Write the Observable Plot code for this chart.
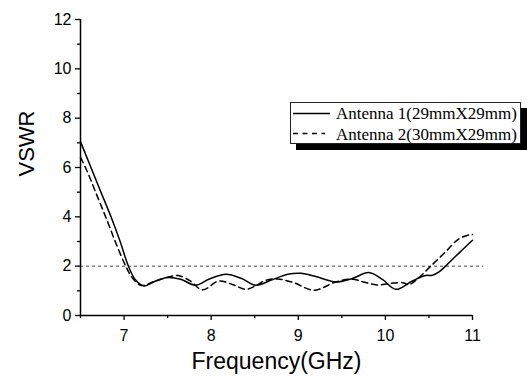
<!DOCTYPE html>
<html>
<head>
<meta charset="utf-8">
<script src="https://cdn.jsdelivr.net/npm/d3@7"></script>
<script src="https://cdn.jsdelivr.net/npm/@observablehq/plot@0.6"></script>
<style>
  html, body { margin: 0; padding: 0; background: #fff; }
  #wrap { position: relative; width: 527px; height: 381px; }
  #legend { position: absolute; left: 290px; top: 102px; width: 229px; height: 40px;
    border: 1px solid #222; background: #fff; box-shadow: 6px 6px 0 #000;
    font-family: "Liberation Serif", "Times New Roman", serif; font-size: 17px; color: #000; }
  #legend svg { position: absolute; left: 0; top: 0; }
  #legend .t { position: absolute; left: 45px; white-space: nowrap; line-height: 1; }
</style>
</head>
<body>
<div id="wrap"></div>
<script>
// Antenna 1 (solid)
const freq1 = [6.5, 6.62, 6.735, 6.85, 6.955, 7.05, 7.13, 7.23, 7.35, 7.5, 7.65, 7.82, 7.98, 8.17, 8.35, 8.51, 8.7, 8.88, 9.03, 9.2, 9.43, 9.62, 9.81, 9.97, 10.12, 10.31, 10.46, 10.54, 10.62, 10.69, 10.85, 11.0];
const vswr1 = [7.05, 6.0, 5.0, 4.0, 3.0, 2.0, 1.45, 1.20, 1.38, 1.54, 1.47, 1.23, 1.48, 1.67, 1.50, 1.23, 1.45, 1.67, 1.71, 1.58, 1.36, 1.50, 1.74, 1.45, 1.06, 1.40, 1.62, 1.63, 1.78, 2.0, 2.55, 3.05];
// Antenna 2 (dashed)
const freq2 = [6.5, 6.57, 6.685, 6.8, 6.91, 7.02, 7.1, 7.2, 7.35, 7.5, 7.62, 7.76, 7.9, 8.09, 8.25, 8.4, 8.52, 8.62, 8.76, 8.95, 9.18, 9.43, 9.62, 9.76, 9.9, 10.05, 10.2, 10.27, 10.38, 10.52, 10.69, 10.84, 10.97, 11.0];
const vswr2 = [6.41, 5.9, 4.9, 3.9, 2.9, 2.0, 1.5, 1.22, 1.38, 1.55, 1.62, 1.40, 1.04, 1.40, 1.25, 1.06, 1.22, 1.42, 1.48, 1.33, 1.02, 1.36, 1.47, 1.35, 1.24, 1.30, 1.33, 1.25, 1.52, 2.0, 2.58, 3.1, 3.28, 3.28];
const seriesNames = ["Antenna 1(29mmX29mm)", "Antenna 2(30mmX29mm)"];
const xMajor = [7, 8, 9, 10, 11];
const xMinor = [6.5, 7.5, 8.5, 9.5, 10.5];
const yMajor = [0, 2, 4, 6, 8, 10, 12];
const yMinor = [1, 3, 5, 7, 9, 11];
const refLevel = [2];
const refExtent = [6.5, 11.13];
const xTitle = "Frequency(GHz)";
const yTitle = "VSWR";

const d1 = freq1.map((f, i) => ({f, v: vswr1[i]}));
const d2 = freq2.map((f, i) => ({f, v: vswr2[i]}));

const chart = Plot.plot({
  width: 527,
  height: 381,
  marginLeft: 80,
  marginRight: 55,
  marginTop: 19,
  marginBottom: 66,
  style: {fontFamily: "'Liberation Sans', Arial, sans-serif", background: "#fff", color: "#000"},
  x: {domain: [6.5, 11]},
  y: {domain: [0, 12]},
  marks: [
    Plot.ruleY(refLevel, {x1: refExtent[0], x2: refExtent[1], stroke: "#444", strokeWidth: 1, strokeDasharray: "3,3"}),
    Plot.line(d2, {x: "f", y: "v", curve: "catmull-rom", stroke: "#000", strokeWidth: 1.5, strokeDasharray: "6,4"}),
    Plot.line(d1, {x: "f", y: "v", curve: "catmull-rom", stroke: "#000", strokeWidth: 1.5}),
    Plot.axisX(xMajor, {tickSize: 5, tickPadding: 9, fontSize: 16, strokeWidth: 1.3, label: null}),
    Plot.axisX(xMinor, {tickSize: 3, tickFormat: () => "", strokeWidth: 1.3, label: null}),
    Plot.axisY(yMajor, {tickSize: 5, tickPadding: 4, fontSize: 16, strokeWidth: 1.3, label: null}),
    Plot.axisY(yMinor, {tickSize: 3, tickFormat: () => "", strokeWidth: 1.3, label: null}),
    Plot.ruleX([6.5], {strokeWidth: 1.5}),
    Plot.ruleY([0], {strokeWidth: 1.5}),
    Plot.text([xTitle], {frameAnchor: "bottom", dy: 53, fontSize: 23}),
    Plot.text([yTitle], {frameAnchor: "left", dx: -54, dy: 9, rotate: -90, fontSize: 22})
  ]
});

const wrap = document.getElementById("wrap");
wrap.appendChild(chart);

const legend = document.createElement("div");
legend.id = "legend";
legend.innerHTML = `
  <svg width="229" height="40">
    <line x1="2" x2="39" y1="10.5" y2="10.5" stroke="#000" stroke-width="1.5"></line>
    <line x1="2" x2="34" y1="30.5" y2="30.5" stroke="#000" stroke-width="1.5" stroke-dasharray="5,4.5"></line>
  </svg>
  <div class="t" style="top:2px">${seriesNames[0]}</div>
  <div class="t" style="top:23px">${seriesNames[1]}</div>`;
wrap.appendChild(legend);
</script>
</body>
</html>
